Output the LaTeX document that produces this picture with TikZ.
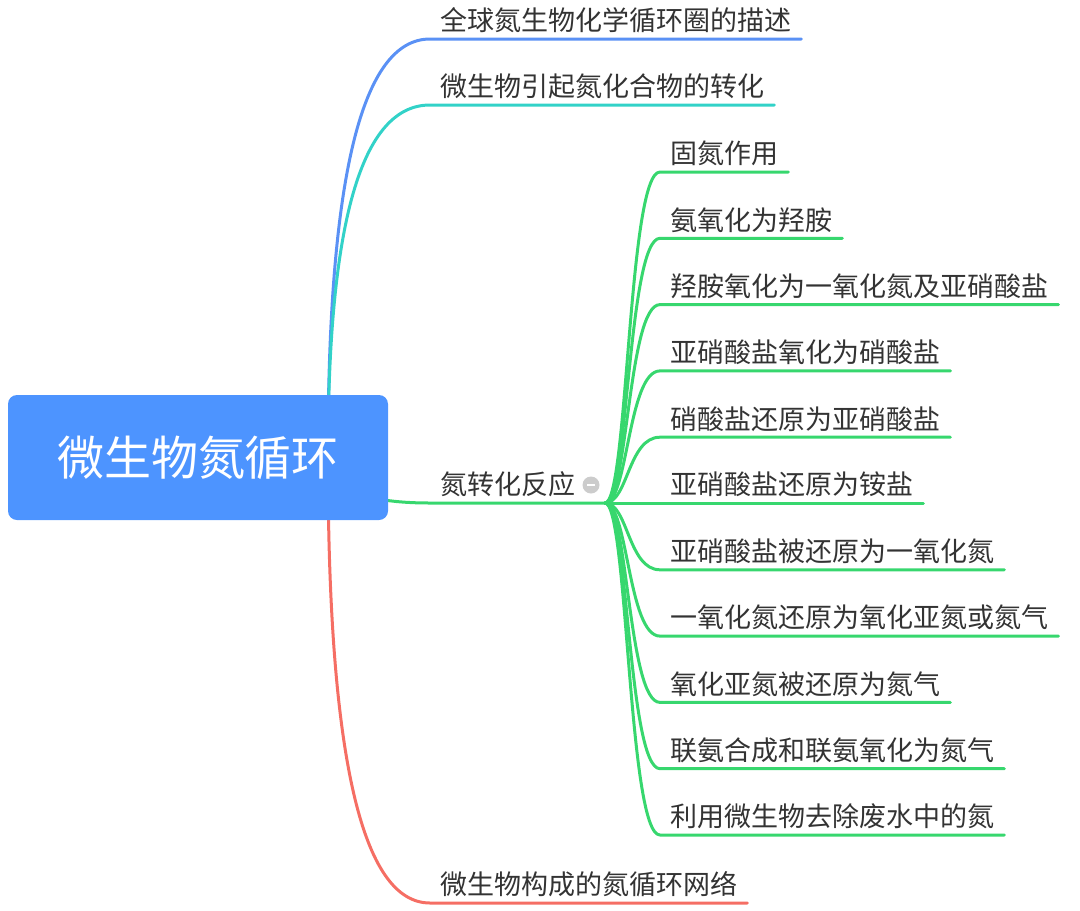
\documentclass[tikz,border=0pt]{standalone}
\usepackage{fontspec}
\setmainfont{Noto Sans CJK SC}
\usetikzlibrary{backgrounds,calc}
\definecolor{rootblue}{RGB}{77,148,255}
\definecolor{lineblue}{RGB}{90,145,245}
\definecolor{linecyan}{RGB}{50,210,200}
\definecolor{linegreen}{RGB}{55,215,110}
\definecolor{linered}{RGB}{245,110,100}
\definecolor{txtgray}{RGB}{51,51,51}
\tikzset{
  topic/.style={anchor=south west, inner xsep=10pt, inner ysep=8pt, text depth=0pt,
    text=txtgray, font=\fontsize{27}{30}\selectfont},
  branch/.style={line width=3pt, line cap=round},
}
\begin{document}
\begin{tikzpicture}[x=1pt, y=-1pt, line join=round]
	\useasboundingbox (0,0) rectangle (1080,911);
	\node[fill=rootblue, rounded corners=9pt, minimum width=380pt, minimum height=125pt,
		text=white, font=\fontsize{47}{50}\selectfont] (root) at (198,457.5) {微生物氮循环};
	\coordinate (hub0) at (328,457);
	\node[topic] (t1) at (430,39) {全球氮生物化学循环圈的描述};
	\node[topic] (t2) at (430,105) {微生物引起氮化合物的转化};
	\node[topic] (t3) at (430,503) {氮转化反应};
	\node[topic] (t4) at (430,903) {微生物构成的氮循环网络};
	\coordinate (hub) at (605,503);
	% collapse button
	\node[circle, fill=black!20, minimum size=17pt, inner sep=0pt] (fold) at (591,485) {};
	\draw[white, line width=2pt] ([xshift=-4pt]fold.center) -- ([xshift=4pt]fold.center);
	\begin{scope}[on background layer]
		\foreach \t/\c in {t1/lineblue, t2/linecyan, t4/linered}
			\draw[branch, \c] (hub0) .. controls ($(hub0)!0.67!(hub0 |- \t.south)$)
				and ($(\t.south west)!0.67!(hub0 |- \t.south)$) .. (\t.south west) -- (\t.south east);
		\draw[branch, linegreen] (hub0) .. controls ($(hub0)!0.67!(hub0 |- t3.south)$)
			and ($(t3.south west)!0.67!(hub0 |- t3.south)$) .. (t3.south west) -- (hub);
	\end{scope}
	\foreach \i/\y/\txt in {1/172/固氮作用, 2/238.3/氨氧化为羟胺, 3/304.6/羟胺氧化为一氧化氮及亚硝酸盐,
			4/370.9/亚硝酸盐氧化为硝酸盐, 5/437.2/硝酸盐还原为亚硝酸盐, 6/503/亚硝酸盐还原为铵盐,
			7/569.8/亚硝酸盐被还原为一氧化氮, 8/636.1/一氧化氮还原为氧化亚氮或氮气,
			9/702.4/氧化亚氮被还原为氮气, 10/768.7/联氨合成和联氨氧化为氮气, 11/835/利用微生物去除废水中的氮} {
		\node[topic] (l\i) at (660,\y) {\txt};
		\draw[branch, linegreen] (hub) .. controls ($(hub)+(23,0)$) and ($(hub |- l\i.south)+(23,0)$)
			.. (l\i.south west) -- (l\i.south east);
	}
\end{tikzpicture}
\end{document}
